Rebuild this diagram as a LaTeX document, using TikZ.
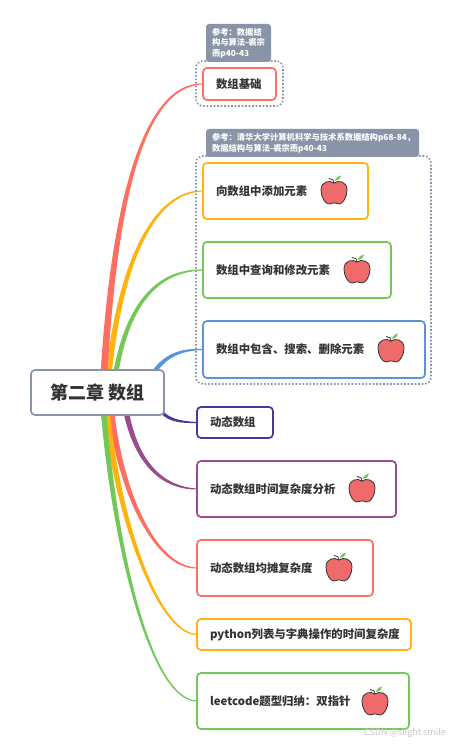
\documentclass[tikz,border=0pt]{standalone}
\usepackage{fontspec}
\setmainfont{Noto Sans CJK SC}
\usetikzlibrary{calc,backgrounds}
\definecolor{cred}{HTML}{FF6F61}
\definecolor{corange}{HTML}{FFB30F}
\definecolor{cgreen}{HTML}{72C95A}
\definecolor{cblue}{HTML}{5B93DB}
\definecolor{cindigo}{HTML}{45399B}
\definecolor{cpurple}{HTML}{9A4A8E}
\definecolor{cslate}{HTML}{8A94A8}
\definecolor{ctext}{HTML}{333333}
\definecolor{cappler}{HTML}{EF6A6A}
\newcommand{\fcolon}{\symbol{"FF1A}}
\newcommand{\fcomma}{\symbol{"FF0C}}
\tikzset{
  topic/.style={draw=#1,line width=1.7pt,rounded corners=4pt,fill=white,outer sep=0pt,inner xsep=0pt,inner ysep=0pt,
    anchor=north west,font=\fontsize{11.4}{14}\selectfont\bfseries,text=ctext,align=left},
  rootbox/.style={draw=cslate,line width=1.7pt,rounded corners=4pt,fill=white,outer sep=0pt,anchor=north west,
    font=\fontsize{18}{20}\selectfont\bfseries,text=ctext,minimum width=133pt,minimum height=45pt},
  dotbox/.style={draw=cslate,line width=1.6pt,dash pattern=on 1.6pt off 1.9pt,rounded corners=7pt,outer sep=0pt,anchor=north west},
  notebox/.style={fill=cslate,rounded corners=3pt,outer sep=0pt,inner sep=0pt,text=white,anchor=north west,
    font=\fontsize{8.3}{10.6}\selectfont\bfseries,align=left},
  apple/.pic={
    \fill[cgreen] (1,-11) .. controls (2,-14) and (5,-15) .. (7,-15.5) .. controls (6,-12) and (4,-10) .. (1,-10) -- cycle;
    \draw[ctext,line width=.8pt,fill=cappler] (0,-8) .. controls (-4,-11) and (-13,-10) .. (-13,-1)
      .. controls (-13,6) and (-9,13) .. (-5,13) .. controls (-3,13) and (-2,11.8) .. (0,11.8)
      .. controls (2,11.8) and (3,13) .. (5,13) .. controls (9,13) and (13,6) .. (13,-1)
      .. controls (13,-10) and (4,-11) .. (0,-8) -- cycle;
    \draw[ctext,line width=.8pt] (0,-7.5) .. controls (0,-11) and (-2,-12.5) .. (-5,-12.5);
  }
}
\newcommand{\taper}[6]{% colour, target, start x, c1, c2, width
  \fill[#1] ($(#3,392)!#6*0.5pt!90:(#4)$)
     .. controls ($(#4)!#6*0.46pt!90:(#5)$) and ($(#5)!#6*0.3pt!90:(#2)$) .. ($(#2)!0.5pt!-90:(#5)$)
     -- ($(#2)!0.5pt!90:(#5)$)
     .. controls ($(#5)!#6*0.3pt!-90:(#2)$) and ($(#4)!#6*0.46pt!-90:(#5)$) .. ($(#3,392)!#6*0.5pt!-90:(#4)$) -- cycle;}
\begin{document}
\begin{tikzpicture}[x=1pt,y=-1pt]
\useasboundingbox (0,0) rectangle (449,746);
% notes and dotted groups
\node[notebox,minimum height=38pt,text width=65pt] (noteA) at (206,24) {\hspace*{6pt}参考\fcolon 数据结\\\hspace*{6pt}构与算法-裘宗\\\hspace*{6pt}燕p40-43};
\node[notebox,minimum height=28pt,text width=213pt] (noteB) at (206,129) {\hspace*{6pt}参考\fcolon 清华大学计算机科学与技术系数据结构p68-84\fcomma\\\hspace*{6pt}数据结构与算法-裘宗燕p40-43};
\node[dotbox,minimum width=87pt,minimum height=45pt] (groupA) at (196,61) {};
\node[dotbox,minimum width=235pt,minimum height=228pt] (groupB) at (196,156) {};
% topics
\node[topic=cred,minimum width=73pt,minimum height=32pt,text width=73pt] (t1) at (203,68) {\hspace*{13pt}数组基础};
\node[topic=corange,minimum width=165pt,minimum height=56pt,text width=165pt] (t2) at (203,163) {\hspace*{13pt}向数组中添加元素};
\node[topic=cgreen,minimum width=188pt,minimum height=56pt,text width=188pt] (t3) at (203,242) {\hspace*{13pt}数组中查询和修改元素};
\node[topic=cblue,minimum width=222pt,minimum height=57pt,text width=222pt] (t4) at (203,321) {\hspace*{13pt}数组中包含、搜索、删除元素};
\node[topic=cindigo,minimum width=76pt,minimum height=31pt,text width=76pt] (t5) at (197,407) {\hspace*{13pt}动态数组};
\node[topic=cpurple,minimum width=199pt,minimum height=56pt,text width=199pt] (t6) at (197,461) {\hspace*{13pt}动态数组时间复杂度分析};
\node[topic=cred,minimum width=176pt,minimum height=56pt,text width=176pt] (t7) at (197,540) {\hspace*{13pt}动态数组均摊复杂度};
\node[topic=corange,minimum width=214pt,minimum height=31pt,text width=214pt] (t8) at (197,619) {\hspace*{13pt}python列表与字典操作的时间复杂度};
\node[topic=cgreen,minimum width=212pt,minimum height=56pt,text width=212pt] (t9) at (197,673) {\hspace*{13pt}leetcode题型归纳\fcolon 双指针};
\node[rootbox] (root) at (31,370) {第二章 数组};
% connectors, behind all boxes
\begin{pgfonlayer}{background}
\fill[white] (0,0) rectangle (449,746);
\taper{cgreen}{t3.west}{113}{124,300}{160,270}{5.5}
\taper{corange}{t2.west}{107}{118,260}{155,191}{6}
\taper{cred}{t1.west}{103}{112,215}{140,84}{7}
\taper{cblue}{t4.west}{145}{155,360}{175,349}{5.5}
\taper{cindigo}{t5.west}{150}{160,420}{175,422}{4.5}
\taper{cpurple}{t6.west}{123}{131,460}{160,488}{6}
\taper{cred}{t7.west}{109}{117,490}{155,568}{6.5}
\taper{corange}{t8.west}{105}{112,500}{155,634}{6.5}
\taper{cgreen}{t9.west}{102}{112,540}{150,701}{5.5}
\end{pgfonlayer}
% apples
\pic at (334,191) {apple};
\pic at (357,270) {apple};
\pic at (391,349) {apple};
\pic at (362,489) {apple};
\pic at (339,568) {apple};
\pic at (375,702) {apple};
\node[text=black!22,font=\fontsize{9}{10}\selectfont,inner sep=0pt,anchor=east] (mark) at (446,733) {CSDN @slight smile};
\end{tikzpicture}
\end{document}
